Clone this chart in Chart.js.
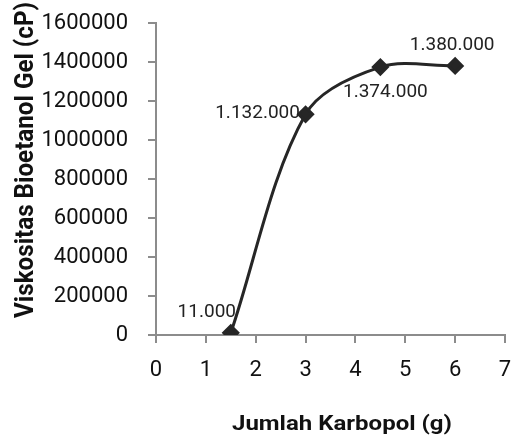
<!DOCTYPE html>
<html>
<head>
<meta charset="utf-8">
<script src="https://cdn.jsdelivr.net/npm/chart.js@4.4.1/dist/chart.umd.min.js"></script>
<style>
  html, body { margin: 0; padding: 0; background: #fff; }
  #wrap { width: 516px; height: 438px; }
</style>
</head>
<body>
<div id="wrap"><canvas id="c" width="516" height="438"></canvas></div>
<script>
// Carbopol amount (g) vs. bioethanol gel viscosity (cP)
const karbopol = [1.5, 3, 4.5, 6];
const viskositas = [11000, 1132000, 1374000, 1380000];
const labelText = ['11.000', '1.132.000', '1.374.000', '1.380.000'];
// label placement relative to each point: [dx, dy]
const labelOffset = [[-24, -21], [-48, -1], [5, 25], [-3, -21]];

const xTitle = 'Jumlah Karbopol (g)';
const yTitle = 'Viskositas Bioetanol Gel (cP)';

const axisColor = '#8c8c8c';
const inkColor = '#262626';

const pointsData = karbopol.map((x, i) => ({ x: x, y: viskositas[i] }));

const valueLabels = {
  id: 'valueLabels',
  afterDatasetsDraw(chart) {
    const ctx = chart.ctx;
    const xs = chart.scales.x, ys = chart.scales.y;
    ctx.save();
    ctx.fillStyle = '#222';
    ctx.font = '19px Roboto';
    ctx.textAlign = 'center';
    ctx.textBaseline = 'middle';
    pointsData.forEach((p, i) => {
      const px = xs.getPixelForValue(p.x) + labelOffset[i][0];
      const py = ys.getPixelForValue(p.y) + labelOffset[i][1];
      ctx.fillText(labelText[i], px, py);
    });
    ctx.restore();
  }
};

// draw text centred on (cx, baseline) squeezed to a given width
function drawFitted(ctx, text, cx, cy, width) {
  const w = ctx.measureText(text).width;
  ctx.save();
  ctx.translate(cx, cy);
  ctx.scale(width / w, 1);
  ctx.fillText(text, 0, 0);
  ctx.restore();
}

const axisTitles = {
  id: 'axisTitles',
  afterDraw(chart) {
    const ctx = chart.ctx;
    ctx.save();
    ctx.fillStyle = '#111';
    ctx.textAlign = 'center';
    ctx.textBaseline = 'alphabetic';
    ctx.font = 'bold 21px Roboto';
    drawFitted(ctx, xTitle, 342, 430, 220);
    ctx.font = 'bold 26px Roboto';
    ctx.save();
    ctx.translate(33, 160);
    ctx.rotate(-Math.PI / 2);
    drawFitted(ctx, yTitle, 0, 0, 316);
    ctx.restore();
    ctx.restore();
  }
};

new Chart(document.getElementById('c'), {
  type: 'line',
  data: {
    datasets: [{
      data: pointsData,
      borderColor: inkColor,
      backgroundColor: inkColor,
      borderWidth: 3,
      tension: 0.33,
      pointStyle: 'rectRot',
      pointRadius: 7,
      pointHoverRadius: 7,
      fill: false
    }]
  },
  options: {
    responsive: false,
    animation: false,
    events: [],
    layout: { padding: { top: 23, right: 11, left: 0, bottom: 0 } },
    plugins: { legend: { display: false }, tooltip: { enabled: false } },
    scales: {
      x: {
        type: 'linear',
        min: 0, max: 7,
        ticks: { stepSize: 1, color: '#111', font: { family: 'Roboto', size: 22 }, padding: 14 },
        grid: { display: true, drawOnChartArea: false, drawTicks: true, tickLength: 8, color: axisColor, lineWidth: 2 },
        border: { display: true, color: axisColor, width: 2 },
        afterFit(scale) {
          scale.height = 103;
          scale.paddingLeft = 0; scale.paddingRight = 0;
        }
      },
      y: {
        type: 'linear',
        min: 0, max: 1600000,
        ticks: { stepSize: 200000, color: '#111', font: { family: 'Roboto', size: 22 }, padding: 20,
                 callback: v => String(v) },
        grid: { display: true, drawOnChartArea: false, drawTicks: true, tickLength: 8, color: axisColor, lineWidth: 2 },
        border: { display: true, color: axisColor, width: 2 },
        afterFit(scale) {
          scale.width = 156;
          scale.paddingTop = 0; scale.paddingBottom = 0;
        }
      }
    }
  },
  plugins: [valueLabels, axisTitles]
});
</script>
</body>
</html>
